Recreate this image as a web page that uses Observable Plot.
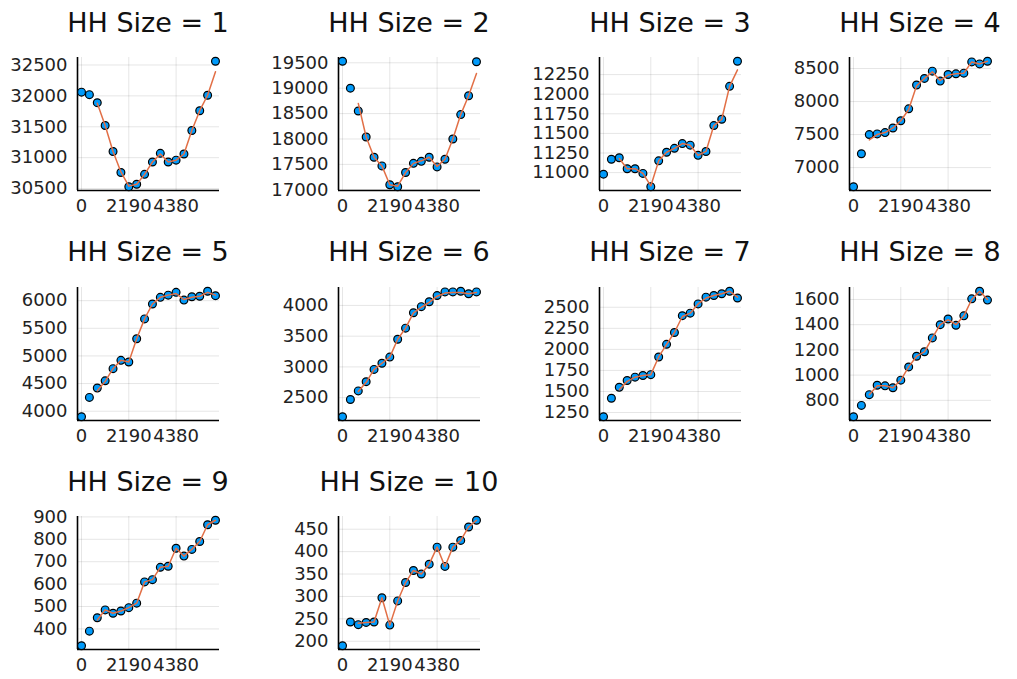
<!DOCTYPE html>
<html><head><meta charset="utf-8">
<script src="https://cdn.jsdelivr.net/npm/d3@7"></script>
<script src="https://cdn.jsdelivr.net/npm/@observablehq/plot@0.6"></script>
<style>
body{margin:0;background:#fff;}
#root{position:relative;width:1017px;height:679px;overflow:hidden;font-family:"DejaVu Sans",sans-serif;background:#fff;}
.title{position:absolute;font-size:27px;line-height:27px;color:#111;white-space:nowrap;transform:translateX(-50%);}
.panel{position:absolute;}
</style></head><body><div id="root"></div><script>
// x values (days) of the 18 observations
const days = [0, 365, 730, 1095, 1460, 1825, 2190, 2555, 2920, 3285, 3650, 4015, 4380, 4745, 5110, 5475, 5840, 6205];
const xTicks = [0, 2190, 4380];
const titles = ["HH Size = 1","HH Size = 2","HH Size = 3","HH Size = 4","HH Size = 5","HH Size = 6","HH Size = 7","HH Size = 8","HH Size = 9","HH Size = 10"];

// observed counts (points)
const obs1  = [32060, 32020, 31890, 31520, 31100, 30760, 30530, 30570, 30730, 30930, 31070, 30930, 30960, 31060, 31440, 31760, 32010, 32560];
const obs2  = [19530, 19000, 18550, 18040, 17640, 17470, 17100, 17060, 17340, 17520, 17560, 17640, 17450, 17600, 18000, 18480, 18850, 19520];
const obs3  = [10980, 11170, 11190, 11050, 11050, 10990, 10820, 11150, 11260, 11310, 11370, 11350, 11220, 11270, 11600, 11680, 12100, 12420];
const obs4  = [6710, 7210, 7500, 7510, 7530, 7600, 7710, 7890, 8250, 8350, 8460, 8310, 8410, 8420, 8430, 8600, 8570, 8610];
const obs5  = [3900, 4250, 4420, 4550, 4770, 4920, 4890, 5310, 5670, 5940, 6060, 6100, 6150, 6010, 6070, 6080, 6170, 6090];
const obs6  = [2190, 2470, 2610, 2760, 2960, 3060, 3160, 3450, 3630, 3880, 3980, 4060, 4160, 4220, 4220, 4230, 4190, 4220];
const obs7  = [1200, 1420, 1550, 1630, 1670, 1690, 1700, 1910, 2060, 2200, 2400, 2430, 2540, 2620, 2640, 2660, 2690, 2610];
const obs8  = [670, 760, 845, 920, 915, 900, 960, 1065, 1150, 1185, 1295, 1400, 1445, 1395, 1470, 1605, 1665, 1595];
const obs9  = [325, 390, 450, 485, 470, 480, 495, 515, 610, 620, 675, 680, 760, 725, 755, 790, 865, 885];
const obs10 = [190, 243, 237, 242, 243, 297, 236, 290, 331, 358, 350, 372, 410, 367, 410, 425, 455, 470];

// fitted line (from the 3rd observation on)
const fit1  = [31880, 31520, 31100, 30770, 30540, 30570, 30730, 30930, 31060, 30930, 30960, 31060, 31440, 31760, 32010, 32390];
const fit2  = [18700, 18040, 17640, 17470, 17100, 17070, 17340, 17520, 17570, 17640, 17460, 17600, 18000, 18480, 18850, 19290];
const fit3  = [11180, 11050, 11050, 10990, 10830, 11150, 11260, 11310, 11370, 11350, 11220, 11270, 11600, 11680, 12100, 12310];
const fit4  = [7420, 7500, 7530, 7600, 7710, 7880, 8240, 8350, 8450, 8320, 8400, 8420, 8430, 8600, 8570, 8610];
const fit5  = [4370, 4540, 4770, 4920, 4890, 5310, 5670, 5940, 6060, 6100, 6130, 6020, 6060, 6080, 6150, 6100];
const fit6  = [2600, 2750, 2960, 3060, 3160, 3450, 3630, 3880, 3970, 4050, 4150, 4200, 4210, 4210, 4190, 4210];
const fit7  = [1520, 1620, 1670, 1690, 1700, 1910, 2060, 2200, 2390, 2430, 2540, 2610, 2640, 2660, 2690, 2620];
const fit8  = [845, 915, 915, 900, 960, 1065, 1150, 1185, 1295, 1400, 1440, 1400, 1470, 1600, 1665, 1600];
const fit9  = [440, 485, 470, 480, 495, 515, 610, 620, 675, 680, 760, 725, 755, 790, 865, 885];
const fit10 = [240, 242, 243, 297, 236, 290, 331, 358, 350, 372, 410, 367, 410, 425, 455, 470];

// y tick labels
const yt1  = [30500, 31000, 31500, 32000, 32500];
const yt2  = [17000, 17500, 18000, 18500, 19000, 19500];
const yt3  = [11000, 11250, 11500, 11750, 12000, 12250];
const yt4  = [7000, 7500, 8000, 8500];
const yt5  = [4000, 4500, 5000, 5500, 6000];
const yt6  = [2500, 3000, 3500, 4000];
const yt7  = [1250, 1500, 1750, 2000, 2250, 2500];
const yt8  = [800, 1000, 1200, 1400, 1600];
const yt9  = [400, 500, 600, 700, 800, 900];
const yt10 = [200, 250, 300, 350, 400, 450];

const obsAll = [obs1, obs2, obs3, obs4, obs5, obs6, obs7, obs8, obs9, obs10];
const fitAll = [fit1, fit2, fit3, fit4, fit5, fit6, fit7, fit8, fit9, fit10];
const ytAll  = [yt1, yt2, yt3, yt4, yt5, yt6, yt7, yt8, yt9, yt10];

const root = document.getElementById("root");
const colLeft = [77, 338, 599, 849];
const rowTop = [57, 287, 516];
const titleTop = [9, 238, 468];
const PW = 142, PH = 133;
const ML = 70, MT = 12, MR = 12, MB = 30;
const fmt = d3.format("d");
const tickFont = {fontSize: 18, fill: "#222"};

obsAll.forEach((obs, i) => {
  const r = Math.floor(i / 4), c = i % 4;
  const pts = obs.map((v, j) => ({x: days[j], y: v}));
  const line = fitAll[i].map((v, j) => ({x: days[j + 2], y: v}));
  const [lo, hi] = d3.extent(obs.concat(fitAll[i]));
  const pad = (hi - lo) * 0.03;
  const xPad = (days[days.length - 1] - days[0]) * 0.03;
  const x0 = days[0] - xPad, x1 = days[days.length - 1] + xPad;
  const y0 = lo - pad, y1 = hi + pad;
  const chart = Plot.plot({
    width: ML + PW + MR, height: MT + PH + MB,
    marginLeft: ML, marginTop: MT, marginRight: MR, marginBottom: MB,
    style: {fontFamily: "DejaVu Sans", background: "transparent", overflow: "visible"},
    x: {domain: [x0, x1], axis: null},
    y: {domain: [y0, y1], axis: null},
    marks: [
      Plot.gridX(xTicks, {stroke: "#000", strokeOpacity: 0.1, strokeWidth: 1}),
      Plot.gridY(ytAll[i], {stroke: "#000", strokeOpacity: 0.1, strokeWidth: 1}),
      Plot.text(xTicks, {x: d => d, frameAnchor: "bottom", dy: 21, text: fmt, ...tickFont, textAnchor: "middle"}),
      Plot.text(ytAll[i], {y: d => d, frameAnchor: "left", dx: -10, text: fmt, ...tickFont, textAnchor: "end"}),
      Plot.ruleX([x0], {stroke: "#000", strokeWidth: 1.6}),
      Plot.ruleY([y0], {stroke: "#000", strokeWidth: 1.6}),
      Plot.dot(pts, {x: "x", y: "y", r: 3.9, fill: "#009AFA", stroke: "#000", strokeWidth: 1.2}),
      Plot.line(line, {x: "x", y: "y", stroke: "#E26F46", strokeWidth: 1.5})
    ]
  });
  const wrap = document.createElement("div");
  wrap.className = "panel";
  wrap.style.left = (colLeft[c] - ML) + "px";
  wrap.style.top = (rowTop[r] - MT) + "px";
  wrap.appendChild(chart);
  root.appendChild(wrap);
  const t = document.createElement("div");
  t.className = "title";
  t.textContent = titles[i];
  t.style.left = (colLeft[c] + PW / 2) + "px";
  t.style.top = titleTop[r] + "px";
  root.appendChild(t);
});
</script></body></html>
